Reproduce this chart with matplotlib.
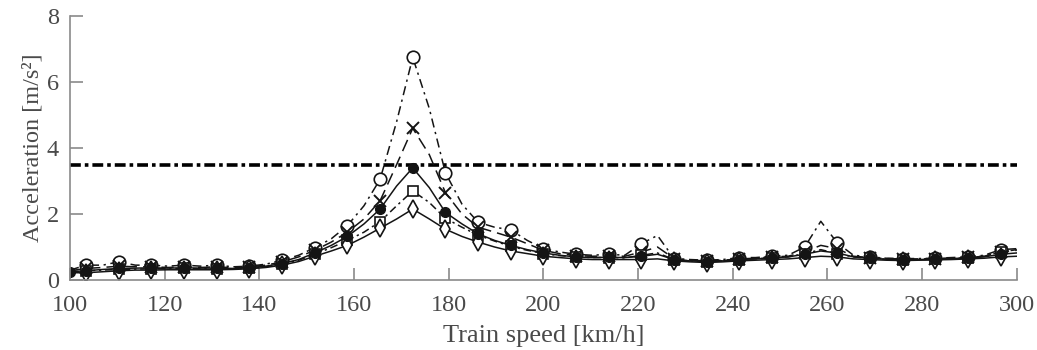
import numpy as np
import matplotlib
matplotlib.use('Agg')
import matplotlib.pyplot as plt

plt.rcParams['font.family'] = ['Liberation Serif', 'DejaVu Serif']

# Train speed grid [km/h]
speed = [100.0, 103.4, 106.9, 110.3, 113.8, 117.2, 120.7, 124.1, 127.6, 131.0,
         134.5, 137.9, 141.4, 144.8, 148.3, 151.7, 155.2, 158.6, 162.1, 165.5,
         169.0, 172.4, 175.9, 179.3, 182.8, 186.2, 189.7, 193.1, 196.6, 200.0,
         203.4, 206.9, 210.3, 213.8, 217.2, 220.7, 224.1, 227.6, 231.0, 234.5,
         237.9, 241.4, 244.8, 248.3, 251.7, 255.2, 258.6, 262.1, 265.5, 269.0,
         272.4, 275.9, 279.3, 282.8, 286.2, 289.7, 293.1, 296.6, 300.0]

# Peak accelerations [m/s^2] for each case
acc_circle = [0.30, 0.45, 0.45, 0.55, 0.45, 0.45, 0.42, 0.45, 0.42, 0.45,
              0.40, 0.42, 0.48, 0.60, 0.75, 0.98, 1.25, 1.65, 2.25, 3.05,
              4.80, 6.75, 5.20, 3.25, 2.30, 1.75, 1.60, 1.52, 1.20, 0.95,
              0.85, 0.78, 0.75, 0.78, 0.75, 1.10, 1.35, 0.65, 0.62, 0.60,
              0.62, 0.68, 0.68, 0.72, 0.75, 1.00, 1.78, 1.12, 0.75, 0.70,
              0.66, 0.65, 0.65, 0.66, 0.68, 0.70, 0.75, 0.92, 0.95]

acc_cross = [0.28, 0.35, 0.38, 0.42, 0.40, 0.40, 0.38, 0.40, 0.38, 0.40,
             0.37, 0.40, 0.45, 0.55, 0.70, 0.90, 1.15, 1.45, 1.85, 2.40,
             3.50, 4.60, 3.80, 2.65, 2.00, 1.60, 1.45, 1.30, 1.10, 0.90,
             0.80, 0.74, 0.72, 0.73, 0.72, 0.85, 1.00, 0.65, 0.60, 0.58,
             0.60, 0.64, 0.66, 0.70, 0.72, 0.85, 1.05, 0.95, 0.72, 0.68,
             0.65, 0.64, 0.64, 0.65, 0.67, 0.69, 0.72, 0.85, 0.90]

acc_dot = [0.25, 0.28, 0.32, 0.35, 0.36, 0.37, 0.36, 0.37, 0.36, 0.36,
           0.35, 0.37, 0.42, 0.50, 0.62, 0.82, 1.05, 1.32, 1.70, 2.15,
           2.85, 3.40, 2.80, 2.05, 1.70, 1.40, 1.20, 1.05, 0.92, 0.82,
           0.75, 0.70, 0.68, 0.69, 0.68, 0.72, 0.78, 0.62, 0.58, 0.56,
           0.58, 0.62, 0.64, 0.67, 0.70, 0.78, 0.88, 0.82, 0.70, 0.66,
           0.63, 0.62, 0.62, 0.63, 0.65, 0.67, 0.70, 0.78, 0.82]

acc_square = [0.25, 0.28, 0.30, 0.32, 0.33, 0.34, 0.34, 0.35, 0.34, 0.34,
              0.34, 0.36, 0.40, 0.48, 0.60, 0.78, 0.98, 1.20, 1.45, 1.77,
              2.25, 2.70, 2.35, 1.87, 1.60, 1.36, 1.18, 1.02, 0.90, 0.80,
              0.74, 0.70, 0.68, 0.68, 0.67, 0.75, 0.82, 0.62, 0.58, 0.56,
              0.58, 0.62, 0.64, 0.67, 0.70, 0.80, 0.92, 0.80, 0.70, 0.66,
              0.63, 0.62, 0.62, 0.63, 0.65, 0.68, 0.72, 0.85, 0.92]

acc_diamond = [0.22, 0.22, 0.25, 0.28, 0.30, 0.30, 0.31, 0.31, 0.31, 0.31,
               0.32, 0.34, 0.38, 0.45, 0.56, 0.72, 0.88, 1.05, 1.30, 1.57,
               1.85, 2.15, 1.85, 1.54, 1.32, 1.15, 1.00, 0.88, 0.80, 0.72,
               0.68, 0.64, 0.62, 0.62, 0.62, 0.62, 0.64, 0.58, 0.55, 0.53,
               0.55, 0.58, 0.60, 0.62, 0.64, 0.68, 0.72, 0.70, 0.64, 0.62,
               0.60, 0.59, 0.60, 0.61, 0.62, 0.64, 0.66, 0.70, 0.72]

limit = 3.5

ink = '#141414'
axis_grey = '#8a8a8a'
text_grey = '#4a4a4a'

fig = plt.figure(figsize=(10.37, 3.5), dpi=100)
ax = fig.add_axes([0.0675, 0.2, 0.913, 0.754])

# Comfort / safety limit
ax.plot([100, 300], [limit, limit], color='black', lw=2.6,
        dashes=(3, 1.1, 1, 1.1))

odd = list(range(1, len(speed), 2))

ax.plot(speed, acc_circle, color=ink, lw=1.1, dashes=(6, 3, 1.5, 3),
        marker='o', ms=9, mfc='white', mec=ink, mew=1.2, markevery=odd)
ax.plot(speed, acc_cross, color=ink, lw=1.1, dashes=(8, 4),
        marker='x', ms=8, mec=ink, mew=1.4, markevery=odd)
ax.plot(speed, acc_square, color=ink, lw=1.1, dashes=(5, 2.5, 1.5, 2.5),
        marker='s', ms=7.5, mfc='white', mec=ink, mew=1.2, markevery=odd)
ax.plot(speed, acc_diamond, color=ink, lw=1.1, linestyle='-',
        marker='d', ms=9, mfc='white', mec=ink, mew=1.2, markevery=odd)
ax.plot(speed, acc_dot, color=ink, lw=1.1, linestyle='-',
        marker='o', ms=7, mfc=ink, mec=ink, markevery=[0] + odd)

ax.set_xlim(100, 300)
ax.set_ylim(0, 8)
ax.set_xticks(np.arange(100, 301, 20))
ax.set_yticks([0, 2, 4, 6, 8])

for side in ['top', 'right']:
    ax.spines[side].set_visible(False)
for side in ['left', 'bottom']:
    ax.spines[side].set_color(axis_grey)
    ax.spines[side].set_linewidth(1.2)

ax.tick_params(direction='in', length=9, width=1.2, color=axis_grey,
               labelcolor=text_grey, labelsize=17.5)
ax.tick_params(axis='x', pad=11)
ax.tick_params(axis='y', pad=8)

ax.set_xlabel('Train speed [km/h]', fontsize=19, color=text_grey, labelpad=6)
ax.set_ylabel('Acceleration [m/s²]', fontsize=17.5, color=text_grey,
              labelpad=2)

plt.savefig('out.png', dpi=100)
